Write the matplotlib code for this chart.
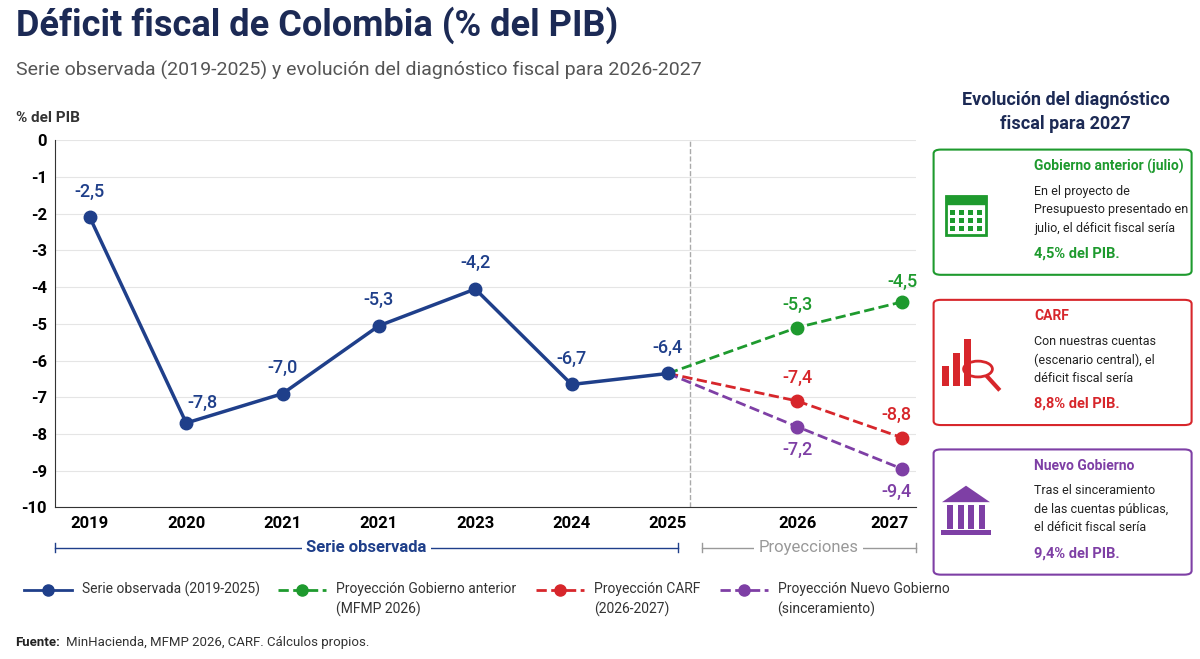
import matplotlib
matplotlib.use("Agg")
import matplotlib.pyplot as plt
from matplotlib.patches import FancyBboxPatch, Rectangle, Circle
import numpy as np

plt.rcParams['font.family'] = ['Roboto', 'DejaVu Sans']

years = ["2019", "2020", "2021", "2021", "2023", "2024", "2025", "2026", "2027"]
obs_x = [0, 1, 2, 3, 4, 5, 6]
obs_y = [-2.1, -7.7, -6.9, -5.05, -4.05, -6.65, -6.35]
obs_lbl = ["-2,5", "-7,8", "-7,0", "-5,3", "-4,2", "-6,7", "-6,4"]
proj_x = [6, 7.34, 8.43]
gob_y = [-6.35, -5.1, -4.4]
gob_lbl = ["-5,3", "-4,5"]
carf_y = [-6.35, -7.1, -8.1]
carf_lbl = ["-7,4", "-8,8"]
nuevo_y = [-6.35, -7.8, -8.95]
nuevo_lbl = ["-7,2", "-9,4"]
tick_x = [0, 1, 2, 3, 4, 5, 6, 7.34, 8.3]

BLUE = "#1f3f8a"; GREEN = "#1e9a2e"; RED = "#d7262b"; PURPLE = "#7e3fa5"

fig = plt.figure(figsize=(12, 6.59), dpi=100)
ax = fig.add_axes([0.046, 0.23, 0.717, 0.557])
ax.set_xlim(-0.36, 8.57)
ax.set_ylim(-10, 0)
ax.set_yticks(range(0, -11, -1))
ax.set_yticklabels([str(v) for v in range(0, -11, -1)], fontsize=12, fontweight='bold')
ax.set_xticks(tick_x)
ax.set_xticklabels(years, fontsize=12, fontweight='bold')
ax.tick_params(length=0, pad=6)
ax.grid(axis='y', color='#e5e5e5', lw=0.8)
for s in ['top', 'right']:
    ax.spines[s].set_visible(False)
ax.spines['left'].set_color('#333'); ax.spines['bottom'].set_color('#333')
ax.axvline(6.23, color='#aaaaaa', ls='--', lw=1)

ax.plot(proj_x, gob_y, '--', color=GREEN, lw=2, marker='o', ms=9, markevery=[1, 2])
ax.plot(proj_x, carf_y, '--', color=RED, lw=2, marker='o', ms=9, markevery=[1, 2])
ax.plot(proj_x, nuevo_y, '--', color=PURPLE, lw=2, marker='o', ms=9, markevery=[1, 2])
ax.plot(obs_x, obs_y, '-', color=BLUE, lw=2.5, marker='o', ms=9, zorder=5)

offs = [(0, 12), (12, 8), (0, 12), (0, 12), (0, 12), (0, 12), (0, 12)]
for (x, y, t), o in zip(zip(obs_x, obs_y, obs_lbl), offs):
    ax.annotate(t, (x, y), xytext=o, textcoords='offset points', ha='center',
                va='bottom', color=BLUE, fontsize=13, fontweight='medium')
kw = dict(textcoords='offset points', ha='center', fontsize=13, fontweight='medium')
ax.annotate(gob_lbl[0], (proj_x[1], gob_y[1]), xytext=(0, 10), va='bottom', color=GREEN, **kw)
ax.annotate(gob_lbl[1], (proj_x[2], gob_y[2]), xytext=(0, 8), va='bottom', color=GREEN, **kw)
ax.annotate(carf_lbl[0], (proj_x[1], carf_y[1]), xytext=(0, 10), va='bottom', color=RED, **kw)
ax.annotate(carf_lbl[1], (proj_x[2], carf_y[2]), xytext=(-4, 10), va='bottom', color=RED, **kw)
ax.annotate(nuevo_lbl[0], (proj_x[1], nuevo_y[1]), xytext=(0, -10), va='top', color=PURPLE, **kw)
ax.annotate(nuevo_lbl[1], (proj_x[2], nuevo_y[2]), xytext=(-4, -10), va='top', color=PURPLE, **kw)

def bracket(x0, x1, col, label):
    yb = -11.1
    ax.plot([x0, x1], [yb, yb], color=col, lw=1, clip_on=False)
    ax.plot([x0, x0], [yb - 0.12, yb + 0.12], color=col, lw=1, clip_on=False)
    ax.plot([x1, x1], [yb - 0.12, yb + 0.12], color=col, lw=1, clip_on=False)
    ax.text((x0 + x1) / 2, yb, label, ha='center', va='center', fontsize=12, color=col,
            fontweight='bold' if col == BLUE else 'normal',
            bbox=dict(facecolor='white', edgecolor='none', pad=3), clip_on=False)
bracket(-0.36, 6.1, BLUE, "Serie observada")
bracket(6.35, 8.57, '#999999', "Proyecciones")

fig.text(0.013, 0.945, "Déficit fiscal de Colombia (% del PIB)", fontsize=26, fontweight='bold', color='#1c2a55')
fig.text(0.013, 0.885, "Serie observada (2019-2025) y evolución del diagnóstico fiscal para 2026-2027", fontsize=14, color='#555')
fig.text(0.013, 0.815, "% del PIB", fontsize=11, fontweight='bold', color='#333')

leg_y = 0.105
items = [(0.02, BLUE, '-', "Serie observada (2019-2025)"),
         (0.232, GREEN, '--', "Proyección Gobierno anterior\n(MFMP 2026)"),
         (0.447, RED, '--', "Proyección CARF\n(2026-2027)"),
         (0.6, PURPLE, '--', "Proyección Nuevo Gobierno\n(sinceramiento)")]
for x0, c, ls, t in items:
    fig.add_artist(plt.Line2D([x0, x0 + 0.04], [leg_y, leg_y], color=c, ls=ls, lw=2))
    fig.add_artist(plt.Line2D([x0 + 0.02], [leg_y], color=c, marker='o', ms=8))
    fig.text(x0 + 0.048, leg_y + 0.012, t, fontsize=10, va='top', color='#333', linespacing=1.5)

fig.text(0.013, 0.02, "Fuente:", fontsize=9.5, fontweight='bold', color='#222')
fig.text(0.055, 0.02, "MinHacienda, MFMP 2026, CARF. Cálculos propios.", fontsize=9.5, color='#333')

fig.text(0.888, 0.83, "Evolución del diagnóstico\nfiscal para 2027", ha='center', va='center', fontsize=13,
         fontweight='bold', color='#1c2a55', linespacing=1.4)
boxes = [(0.583, GREEN, "Gobierno anterior (julio)",
          "En el proyecto de\nPresupuesto presentado en\njulio, el déficit fiscal sería", "4,5% del PIB."),
         (0.355, RED, "CARF", "Con nuestras cuentas\n(escenario central), el\ndéficit fiscal sería", "8,8% del PIB."),
         (0.128, PURPLE, "Nuevo Gobierno", "Tras el sinceramiento\nde las cuentas públicas,\nel déficit fiscal sería", "9,4% del PIB.")]
for y0, c, title, body, bold in boxes:
    fig.add_artist(FancyBboxPatch((0.778, y0), 0.215, 0.19, boxstyle="round,pad=0,rounding_size=0.006",
                                  transform=fig.transFigure, facecolor='white', edgecolor=c, lw=1.5))
    fig.text(0.862, y0 + 0.165, title, fontsize=10, fontweight='bold', color=c, va='center')
    fig.text(0.862, y0 + 0.137, body, fontsize=9, color='#222', va='top', linespacing=1.55)
    fig.text(0.862, y0 + 0.032, bold, fontsize=10.5, fontweight='bold', color=c, va='center')
    cx, cy = 0.805, y0 + 0.095
    if c == GREEN:
        fig.add_artist(Rectangle((cx - 0.017, cy - 0.035), 0.034, 0.06, transform=fig.transFigure, fill=False, ec=c, lw=2))
        fig.add_artist(Rectangle((cx - 0.017, cy + 0.012), 0.034, 0.013, transform=fig.transFigure, fc=c, ec=c))
        for i in range(4):
            for j in range(3):
                fig.add_artist(Rectangle((cx - 0.013 + i * 0.0075, cy - 0.028 + j * 0.012), 0.004, 0.007, transform=fig.transFigure, fc=c, ec='none'))
    elif c == RED:
        for i, h in enumerate([0.03, 0.05, 0.07]):
            fig.add_artist(Rectangle((cx - 0.02 + i * 0.009, cy - 0.035), 0.006, h, transform=fig.transFigure, fc=c, ec='none'))
        fig.add_artist(Circle((cx + 0.01, cy - 0.01), 0.012, transform=fig.transFigure, fill=False, ec=c, lw=2))
        fig.add_artist(plt.Line2D([cx + 0.018, cx + 0.027], [cy - 0.022, cy - 0.04], color=c, lw=3))
    else:
        fig.add_artist(plt.Polygon([[cx - 0.02, cy + 0.015], [cx + 0.02, cy + 0.015], [cx, cy + 0.04]], transform=fig.transFigure, fc=c))
        for i in range(4):
            fig.add_artist(Rectangle((cx - 0.016 + i * 0.009, cy - 0.025), 0.005, 0.035, transform=fig.transFigure, fc=c, ec='none'))
        fig.add_artist(Rectangle((cx - 0.021, cy - 0.035), 0.042, 0.007, transform=fig.transFigure, fc=c, ec='none'))

fig.savefig("out.png", dpi=100)
